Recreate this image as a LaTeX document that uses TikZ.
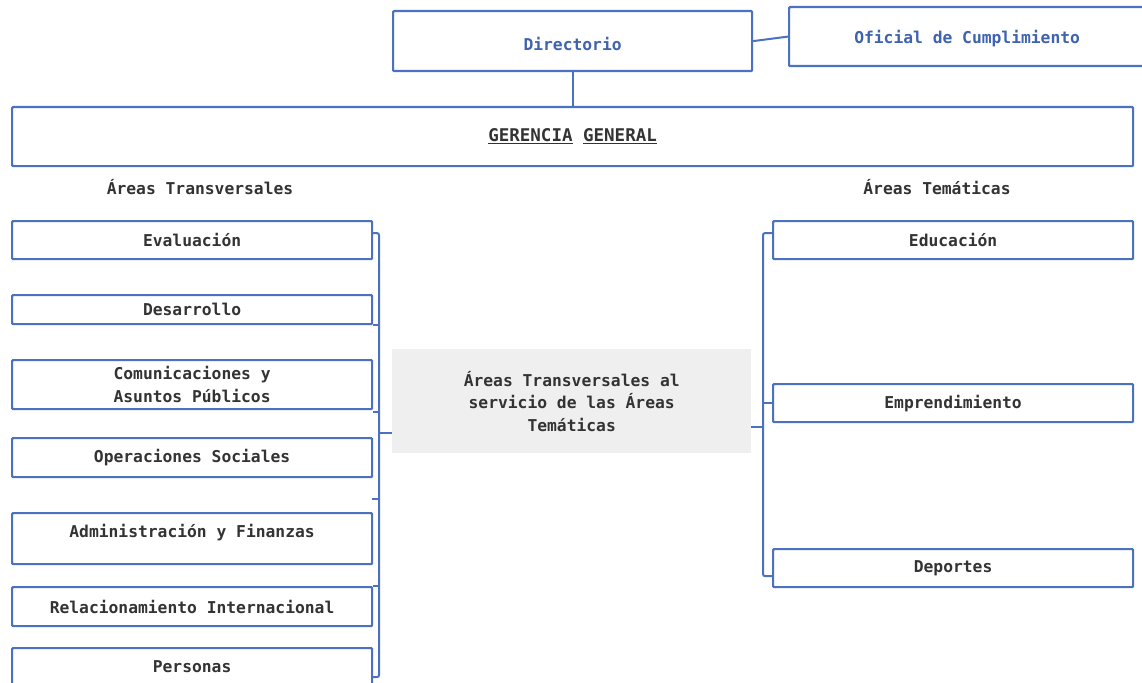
\documentclass[tikz,border=0pt]{standalone}
\usepackage{fontspec}
\newfontfamily\mono{DejaVu Sans Mono}
\usetikzlibrary{calc}
\definecolor{lblue}{HTML}{4A72C0}
\definecolor{dblue}{HTML}{3F63AE}
\definecolor{txt}{HTML}{333333}
\definecolor{ctrfill}{HTML}{EFEFEF}
\tikzset{
  box/.style={draw=lblue, line width=2.2pt, rounded corners=1pt, anchor=north west,
    inner sep=0pt, font=\mono\bfseries\fontsize{16.3}{22.5}\selectfont, text=txt, align=center},
  conn/.style={draw=lblue, line width=2pt, rounded corners=2pt},
  lbl/.style={font=\mono\bfseries\fontsize{16.3}{22.5}\selectfont, text=txt, inner sep=0pt}
}
\begin{document}
\begin{tikzpicture}[x=1pt,y=-1pt]
\useasboundingbox (0,0) rectangle (1142,682);
\clip (0,0) rectangle (1142,682);
\fill[white] (0,0) rectangle (1142,682);
% top
\node[box, minimum width=359pt, minimum height=60pt, text=dblue, text height=18pt, text depth=0pt] (dir) at (392,10) {Directorio};
\node[box, minimum width=356pt, minimum height=59pt, text=dblue, text height=14pt, text depth=0pt] (ofi) at (788,6) {Oficial de Cumplimiento};
\node[box, minimum width=1121pt, minimum height=59pt, font=\mono\bfseries\fontsize{17.5}{20}\selectfont] (ger) at (11,106) {\underline{GERENCIA} \underline{GENERAL}};
\draw[conn] (dir.east) -- (ofi.west);
\draw[conn] (dir.south) -- (ger.north);
% labels
\node[lbl] (lt) at (200,187) {Áreas Transversales};
\node[lbl] (rt) at (937,187) {Áreas Temáticas};
% left boxes
\node[box, minimum width=360pt, minimum height=38pt] (ev) at (11,220) {Evaluación};
\node[box, minimum width=360pt, minimum height=29pt] (des) at (11,294) {Desarrollo};
\node[box, minimum width=360pt, minimum height=49pt] (com) at (11,359) {Comunicaciones y\\Asuntos Públicos};
\node[box, minimum width=360pt, minimum height=39pt] (ops) at (11,437) {Operaciones Sociales};
\node[box, minimum width=360pt, minimum height=51pt, text height=12pt, text depth=14pt] (adm) at (11,512) {Administración y Finanzas};
\node[box, minimum width=360pt, minimum height=39pt] (rel) at (11,586) {Relacionamiento Internacional};
\node[box, minimum width=360pt, minimum height=38pt] (per) at (11,647) {Personas};
% center
\node[anchor=north west, fill=ctrfill, minimum width=359pt, minimum height=104pt, inner sep=0pt,
  font=\mono\bfseries\fontsize{16.3}{22.5}\selectfont, text=txt, align=center] (ctr) at (392,349)
  {Áreas Transversales al\\servicio de las Áreas\\Temáticas};
% right boxes
\node[box, minimum width=360pt, minimum height=38pt] (edu) at (772,220) {Educación};
\node[box, minimum width=360pt, minimum height=38pt] (emp) at (772,383) {Emprendimiento};
\node[box, minimum width=360pt, minimum height=38pt] (dep) at (772,548) {Deportes};
% left bus
\coordinate (lbus) at (379,433);
\coordinate (stub) at (372,499);
\draw[conn] ([yshift=7pt]ev.east) -| (lbus) |- ([yshift=-10pt]per.east);
\draw[conn] (des.south east) -- (des.south east -| lbus);
\draw[conn] ([yshift=-2pt]com.south east) -- ([yshift=-2pt]com.south east -| lbus);
\draw[conn] (stub) -- (stub -| lbus);
\draw[conn] (rel.north east) -- (rel.north east -| lbus);
\draw[conn] (lbus) -- (ctr.west |- lbus);
% right bus
\coordinate (rbus) at (763,427);
\draw[conn] ([yshift=7pt]edu.west) -| (rbus) |- ([yshift=-8pt]dep.west);
\draw[conn] (emp.west) -- (emp.west -| rbus);
\draw[conn] (ctr.east |- rbus) -- (rbus);
\end{tikzpicture}
\end{document}
